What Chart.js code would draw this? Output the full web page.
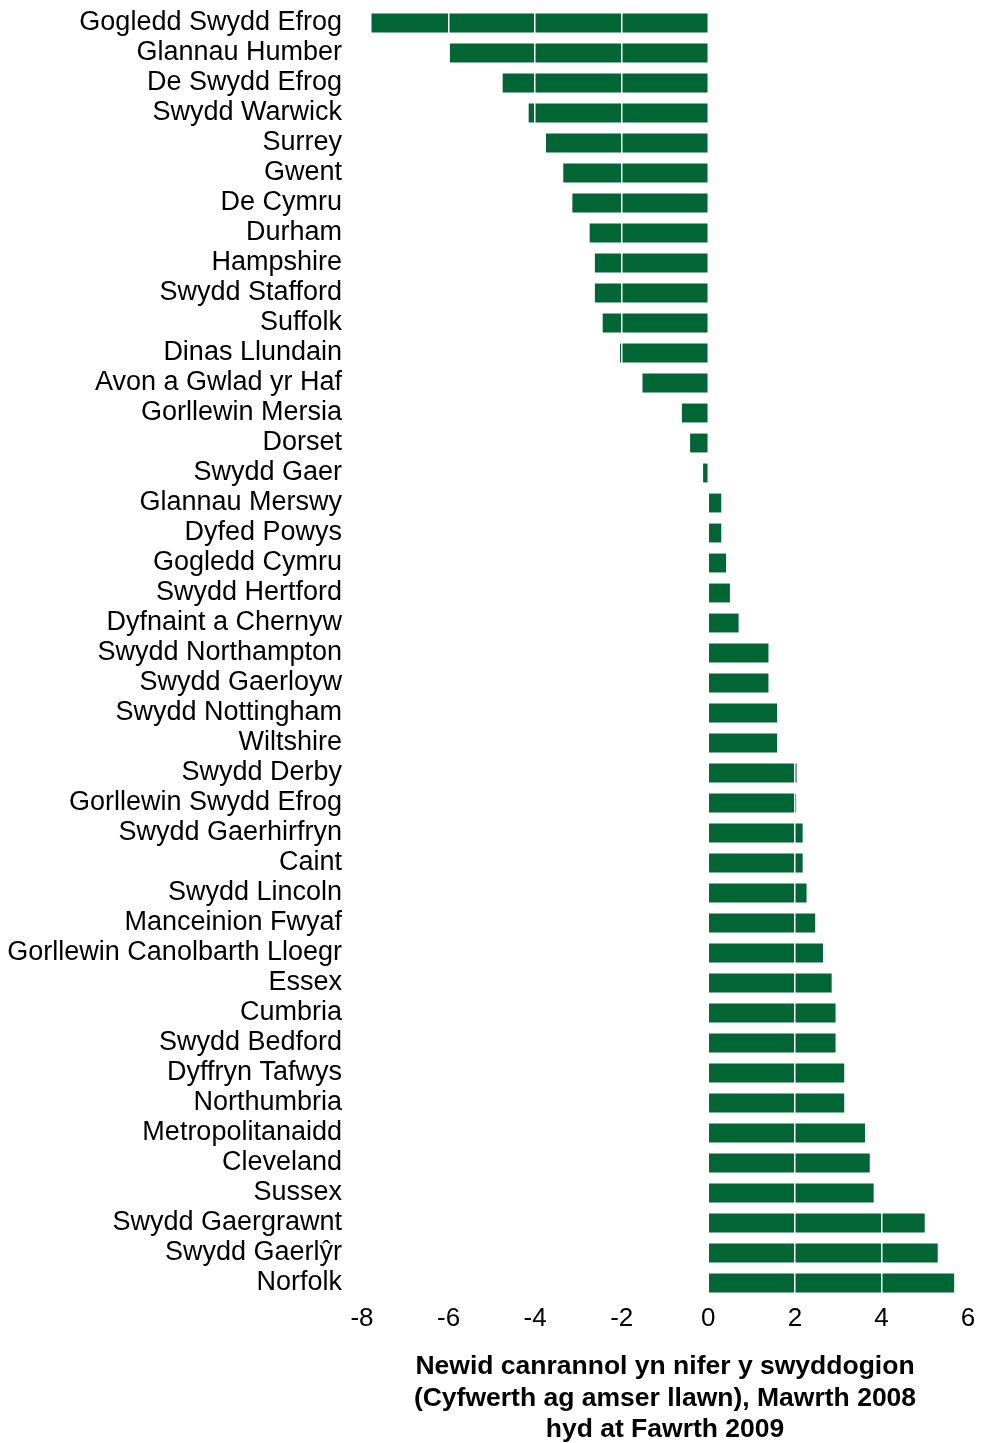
<!DOCTYPE html>
<html>
<head>
<meta charset="utf-8">
<script src="https://cdn.jsdelivr.net/npm/chart.js@4/dist/chart.umd.min.js"></script>
<style>
  html, body { margin: 0; padding: 0; background: #fff; }
  #wrap { width: 985px; height: 1443px; }
</style>
</head>
<body>
<div id="wrap"><canvas id="barChart" width="985" height="1443"></canvas></div>
<script>
// Police force areas, percentage change in officers (FTE), March 2008 to March 2009

const areas = [
  "Gogledd Swydd Efrog", "Glannau Humber", "De Swydd Efrog", "Swydd Warwick",
  "Surrey", "Gwent", "De Cymru", "Durham", "Hampshire", "Swydd Stafford",
  "Suffolk", "Dinas Llundain", "Avon a Gwlad yr Haf", "Gorllewin Mersia",
  "Dorset", "Swydd Gaer", "Glannau Merswy", "Dyfed Powys", "Gogledd Cymru",
  "Swydd Hertford", "Dyfnaint a Chernyw", "Swydd Northampton", "Swydd Gaerloyw",
  "Swydd Nottingham", "Wiltshire", "Swydd Derby", "Gorllewin Swydd Efrog",
  "Swydd Gaerhirfryn", "Caint", "Swydd Lincoln", "Manceinion Fwyaf",
  "Gorllewin Canolbarth Lloegr", "Essex", "Cumbria", "Swydd Bedford",
  "Dyffryn Tafwys", "Northumbria", "Metropolitanaidd", "Cleveland", "Sussex",
  "Swydd Gaergrawnt", "Swydd Gaerlŷr", "Norfolk"
];

const pctChange = [
  -7.78, -5.97, -4.75, -4.15,
  -3.75, -3.35, -3.14, -2.74, -2.62, -2.62,
  -2.44, -2.04, -1.52, -0.61,
  -0.42, -0.12, 0.30, 0.30, 0.41,
  0.50, 0.70, 1.39, 1.39,
  1.59, 1.59, 2.04, 2.03,
  2.18, 2.18, 2.27, 2.47,
  2.65, 2.85, 2.94, 2.94,
  3.14, 3.14, 3.62, 3.73, 3.82,
  5.00, 5.30, 5.68
];

const xTicks = [-8, -6, -4, -2, 0, 2, 4, 6];

const axisTitle = [
  "Newid canrannol yn nifer y swyddogion",
  "(Cyfwerth ag amser llawn), Mawrth 2008",
  "hyd at Fawrth 2009"
];

const barColor = "#006633";
const fontFamily = "'Liberation Sans', Arial, Helvetica, sans-serif";

const ctx = document.getElementById("barChart").getContext("2d");

new Chart(ctx, {
  type: "bar",
  data: {
    labels: areas,
    datasets: [
      {
        data: pctChange,
        backgroundColor: barColor,
        borderWidth: 0,
        categoryPercentage: 1,
        barPercentage: 0.63,
      },
    ],
  },
  options: {
    indexAxis: "y",
    responsive: false,
    animation: false,
    layout: { padding: { left: 0, right: 17, top: 8, bottom: -3 } },
    plugins: {
      legend: { display: false },
      tooltip: { enabled: false },
    },
    scales: {
      x: {
        min: -8,
        max: 6,
        z: 1,
        afterBuildTicks: (scale) => {
          scale.ticks = xTicks.map((v) => ({ value: v }));
        },
        afterFit: (scale) => {
          scale.height = 148;
        },
        grid: {
          // white lines drawn over the bars, none at zero
          z: 1,
          color: (c) => (c.tick && c.tick.value === 0 ? "rgba(0,0,0,0)" : "#ffffff"),
          lineWidth: 1.5,
          drawTicks: false,
        },
        border: { display: false },
        ticks: {
          color: "#000",
          font: { family: fontFamily, size: 26 },
          padding: 5,
        },
        title: {
          display: true,
          text: axisTitle,
          color: "#000",
          font: { family: fontFamily, size: 26.5, weight: "bold", lineHeight: 1.2 },
          padding: { top: 18, bottom: 0 },
        },
      },
      y: {
        grid: { display: false, drawTicks: false },
        border: { display: false },
        afterFit: (scale) => {
          scale.width = 362;
          scale.paddingTop = 0;
          scale.paddingBottom = 0;
        },
        ticks: {
          color: "#000",
          autoSkip: false,
          font: { family: fontFamily, size: 27 },
          padding: 20,
        },
      },
    },
  },
});
</script>
</body>
</html>
